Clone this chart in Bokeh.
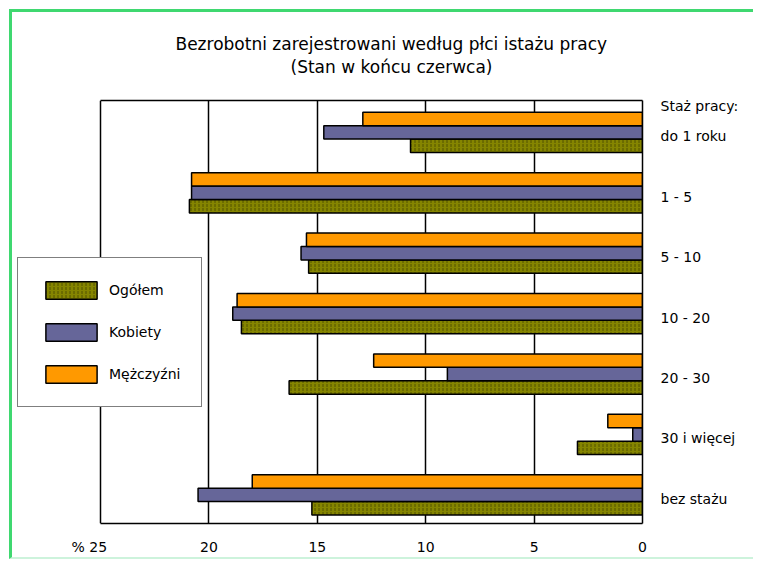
from bokeh.plotting import figure
from bokeh.models import (Range1d, FixedTicker, Legend, LegendItem, Title, LinearAxis,
                          ColumnDataSource)
from bokeh.embed import file_html
from bokeh.resources import INLINE

# ---- data ----
categories = ["do 1 roku", "1 - 5", "5 - 10", "10 - 20", "20 - 30", "30 i więcej", "bez stażu"]
ogolem = [10.7, 20.9, 15.4, 18.5, 16.3, 3.0, 15.25]
kobiety = [14.7, 20.8, 15.75, 18.9, 9.0, 0.45, 20.5]
mezczyzni = [12.9, 20.8, 15.5, 18.7, 12.4, 1.6, 18.0]
series_names = ["Ogółem", "Kobiety", "Mężczyźni"]
x_ticks = [0, 5, 10, 15, 20, 25]
x_max = 25
axis_header = "Staż pracy:"
title_line1 = "Bezrobotni zarejestrowani według płci istażu pracy"
title_line2 = "(Stan w końcu czerwca)"

FONT = "DejaVu Sans"
n = len(categories)
centers = [n - 0.5 - i for i in range(n)]

# layout (pixels): frame extends left so the legend can overlap the plot box
W, H = 744, 550
left_b, right_b, top_b, bottom_b = 4, 114, 88, 39
frame_w = W - left_b - right_b          # 626
box_w = 542                              # width of the 0..25 box
x_left = x_max * frame_w / box_w

p = figure(width=W, height=H, x_range=Range1d(x_left, 0), y_range=Range1d(0, n),
           output_backend="svg", toolbar_location=None, y_axis_location="right",
           min_border_left=left_b, min_border_right=right_b,
           min_border_top=top_b, min_border_bottom=bottom_b)
p.background_fill_color = "white"
p.border_fill_color = "white"
p.outline_line_color = None
p.styles = {"margin-left": "9px", "margin-top": "9px",
            "border-top": "3px solid #3fd870", "border-left": "3px solid #3fd870",
            "border-bottom": "2px solid #cdf3dc"}

# grid (vertical lines incl. the left box edge at 25)
p.ygrid.grid_line_color = None
p.xgrid.grid_line_color = "black"
p.xgrid.grid_line_width = 1.5

# bottom x axis (its line = bottom edge of the box)
xa = p.xaxis[0]
xa.ticker = FixedTicker(ticks=x_ticks)
xa.bounds = (0, x_max)
xa.major_label_overrides = {25: "% 25" + "\u00a0" * 5}
xa.axis_line_color = "black"
xa.axis_line_width = 1.5
xa.major_tick_line_color = None
xa.minor_tick_line_color = None
xa.major_tick_out = 0
xa.major_tick_in = 0
xa.major_label_standoff = 15
xa.major_label_text_font = FONT
xa.major_label_text_font_size = "14px"
xa.major_label_text_color = "black"

# top axis: only a line (top edge of the box); an invisible axis label acts as spacer
ta = LinearAxis(ticker=FixedTicker(ticks=[]), bounds=(0, x_max),
                axis_line_color="black", axis_line_width=1.5,
                major_tick_line_color=None, minor_tick_line_color=None,
                major_tick_out=0, major_tick_in=0, minor_tick_out=0, minor_tick_in=0,
                major_label_standoff=0, major_label_text_font_size="0px",
                axis_label="\u00a0", axis_label_standoff=5,
                axis_label_text_font=FONT, axis_label_text_font_size="14px",
                axis_label_text_color=None)
p.add_layout(ta, "above")

# right category axis (its line = right edge of the box)
label_pos = [c - 0.093 for c in centers]
header_pos = n - 0.083
ya = p.yaxis[0]
ya.ticker = FixedTicker(ticks=label_pos + [header_pos])
ov = {lp: cat for lp, cat in zip(label_pos, categories)}
ov[header_pos] = axis_header
ya.major_label_overrides = ov
ya.axis_line_color = "black"
ya.axis_line_width = 1.5
ya.major_tick_line_color = None
ya.minor_tick_line_color = None
ya.major_tick_out = 0
ya.major_tick_in = 0
ya.major_label_standoff = 18
ya.major_label_text_font = FONT
ya.major_label_text_font_size = "14px"
ya.major_label_text_color = "black"

bar_h = 0.222
specs = [
    (ogolem, -0.249, dict(fill_color="#858500", hatch_pattern=":", hatch_color="#3a3a00",
                          hatch_scale=4, hatch_weight=1, hatch_alpha=0.7)),
    (kobiety, -0.027, dict(fill_color="#666699")),
    (mezczyzni, 0.195, dict(fill_color="#ff9900")),
]
renderers = []
for vals, off, style in specs:
    src = ColumnDataSource(dict(y=[c + off for c in centers], right=vals, left=[0] * n))
    r = p.hbar(y="y", height=bar_h, left="left", right="right", source=src,
               line_color="black", line_width=1.5, **style)
    renderers.append(r)

legend = Legend(items=[LegendItem(label=nm, renderers=[r]) for nm, r in zip(series_names, renderers)],
                location=(1, 116), orientation="vertical",
                glyph_width=64, glyph_height=22, spacing=20, padding=21, margin=0,
                label_standoff=6, border_line_color="black", border_line_width=1.5,
                background_fill_color="white", background_fill_alpha=1.0,
                label_text_font=FONT, label_text_font_size="14px", label_text_color="black")
p.add_layout(legend, "center")

# titles (closest to the frame first)
p.add_layout(Title(text=title_line2, align="left", offset=274, standoff=0,
                   text_font=FONT, text_font_size="17px", text_font_style="normal",
                   text_color="black"), "above")
p.add_layout(Title(text=title_line1, align="left", offset=159, standoff=2,
                   text_font=FONT, text_font_size="17px", text_font_style="normal",
                   text_color="black"), "above")

open("out.html", "w").write(file_html(p, INLINE))
